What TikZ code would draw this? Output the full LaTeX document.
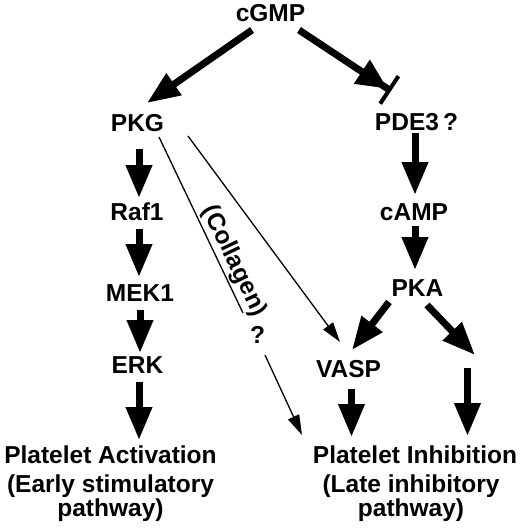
\documentclass[tikz,border=0pt]{standalone}
\usepackage{fontspec}
\setmainfont{Liberation Sans}
\usetikzlibrary{arrows.meta,calc}

\begin{document}
\begin{tikzpicture}[x=1pt,y=-1pt,
    lbl/.style={font=\bfseries\fontsize{24.5}{21}\selectfont,inner sep=0pt,anchor=base},
    strong/.style={line width=7pt,-{Triangle[length=33pt,width=25pt]}},
    weak/.style={line width=1.3pt,-{Triangle[length=20pt,width=12pt]}}]
    \useasboundingbox (0,0) rectangle (520,531);
    \node[lbl] (cGMP) at (270.5,21.5) {cGMP};
    \node[lbl] (PKG) at (137.5,131) {PKG};
    \node[lbl] (PDE3) at (416.5,130.5) {PDE3\,?};
    \node[lbl] (Raf1) at (137,220) {Raf1};
    \node[lbl] (MEK1) at (140,301.5) {MEK1};
    \node[lbl] (ERK) at (137.5,373) {ERK};
    \node[lbl] (cAMP) at (414,220) {cAMP};
    \node[lbl] (PKA) at (417.5,296.5) {PKA};
    \node[lbl] (VASP) at (348.5,377) {VASP};
    \node[lbl] (qm) at (257.5,343) {?};
    \node[lbl] (act) at (110.5,463) {Platelet Activation};
    \node[lbl,align=center] (early) at (110.5,516) {(Early stimulatory\\pathway)};
    \node[lbl] (inh) at (415,463) {Platelet Inhibition};
    \node[lbl,align=center] (late) at (411,516) {(Late inhibitory\\pathway)};
    \coordinate (pkaend) at (475,355);
    \coordinate (inhstart) at (467.5,368);

    \draw[strong] ($(cGMP.base)+(-18.5,8.5)$) -- ($(PKG.base)+(9.5,-28)$);
    \draw[line width=7pt,-{Triangle[length=31pt,width=27pt] Bar[width=33pt,line width=4pt]}]
       ($(cGMP.base)+(28.5,8.5)$) -- ($(PDE3.base)+(-25.5,-39.5)$);
    \draw[strong] ($(PKG.base)+(1.5,18)$) -- ($(Raf1.base)+(2,-22)$);
    \draw[strong] ($(Raf1.base)+(2,9)$) -- ($(MEK1.base)+(-1,-24.5)$);
    \draw[strong] ($(MEK1.base)+(0,8.5)$) -- ($(ERK.base)+(2.5,-20)$);
    \draw[strong] ($(ERK.base)+(1.5,9)$) -- ($(act.base)+(28.5,-23)$);
    \draw[strong] ($(PDE3.base)+(-1.5,2.5)$) -- ($(cAMP.base)+(1,-25)$);
    \draw[strong] ($(cAMP.base)+(1,6)$) -- ($(PKA.base)+(-2.5,-26.5)$);
    \draw[strong] ($(PKA.base)+(-28.5,5.5)$) -- ($(VASP.base)+(3.5,-27)$);
    \draw[strong] ($(PKA.base)+(9.5,8.5)$) -- (pkaend);
    \draw[strong] (inhstart) -- ($(inh.base)+(52.5,-27)$);
    \draw[strong] ($(VASP.base)+(3,12)$) -- ($(inh.base)+(-63.5,-26)$);
    \draw[weak] ($(PKG.base)+(50.5,5)$) -- ($(VASP.base)+(-8.5,-35)$);
    \draw[line width=1.3pt] ($(PKG.base)+(21.5,6)$) -- ($(qm.base)+(-14.5,-30)$)
       node[lbl,sloped,above=2pt,pos=.74] {(Collagen)};
    \draw[weak] ($(qm.base)+(7.5,12)$) -- ($(inh.base)+(-113,-28)$);
\end{tikzpicture}
\end{document}
